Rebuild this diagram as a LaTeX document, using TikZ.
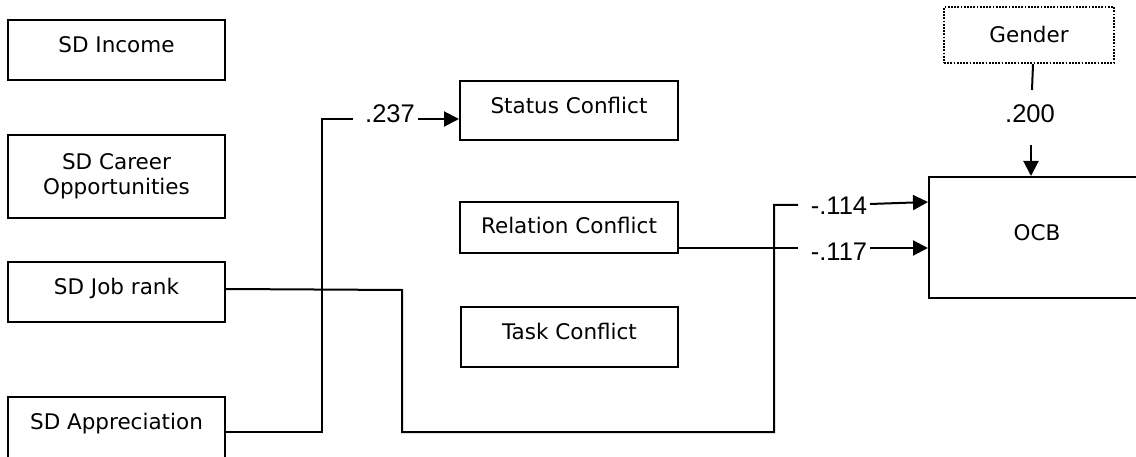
\documentclass[tikz,border=0pt]{standalone}
\usepackage{fontspec}
\setmainfont{DejaVu Sans}
\newfontfamily\numfont{Liberation Sans}
\usetikzlibrary{arrows.meta}
\begin{document}
\begin{tikzpicture}[x=1pt,y=-1pt,
  every node/.style={font=\fontsize{21.5}{25}\selectfont},
  box/.style={draw, line width=2pt, inner sep=0pt, text height=15.5pt, text depth=10pt, align=center},
  mbox/.style={draw, line width=2pt, inner sep=0pt, align=center},
  dotbox/.style={draw, line width=2.2pt, dash pattern=on 1.8pt off 1.4pt, inner sep=0pt, text height=15.5pt, text depth=0pt},
  num/.style={font=\numfont\fontsize{25.5}{28}\selectfont, inner sep=0pt, anchor=base},
  con/.style={line width=2pt},
  arr/.style={line width=2pt, -{Triangle[length=15pt,width=15pt]}}]
\useasboundingbox (0,0) rectangle (1136,457);
% boxes
\node[box, minimum width=217pt, minimum height=60pt] (inc) at (116.5,50) {SD Income};
\node[mbox, minimum width=217pt, minimum height=83pt] (car) at (116.5,176.5) {SD Career\\Opportunities};
\node[box, minimum width=217pt, minimum height=60pt] (rank) at (116.5,292) {SD Job rank};
\node[draw, line width=2pt, inner sep=0pt, minimum width=217pt, text height=32pt, text depth=38pt] (app) at (116.5,432) {SD Appreciation};
\node[box, minimum width=218pt, minimum height=59pt] (stat) at (569,110.5) {Status Conflict};
\node[draw, line width=2pt, inner sep=0pt, text height=15.5pt, text depth=3pt, minimum width=218pt, minimum height=51pt] (rel) at (569,227.5) {Relation Conflict};
\node[box, minimum width=217pt, minimum height=60pt] (task) at (569.5,337) {Task Conflict};
\node[dotbox, minimum width=170pt, minimum height=56pt] (gender) at (1029,35) {Gender};
\node[box, minimum width=216pt, minimum height=121pt] (ocb) at (1037,237.5) {OCB};
% labels
\node[num] (l237) at (390,123) {.237};
\node[num] (l114) at (839,215) {-.114};
\node[num] (l117) at (839,261) {-.117};
\node[num] (l200) at (1030,123) {.200};
% coordinates
\coordinate (p1) at (322,432);
\coordinate (p2) at (322,119);
\coordinate (p3) at (353,119);
\coordinate (p4) at (418,119);
\coordinate (j1) at (402,290);
\coordinate (j2) at (402,432);
\coordinate (j3) at (774,432);
\coordinate (j4) at (774,205);
\coordinate (j5) at (798,205);
\coordinate (a114) at (870,204);
\coordinate (c117) at (798,248);
\coordinate (a117) at (870,248);
\coordinate (g1) at (1032,90);
\coordinate (g2) at (1031,145);
% connectors
\draw[con] (app.east) -- (p1) -- (p2) -- (p3);
\draw[arr] (p4) -- (p4 -| stat.west);
\draw[con] ([yshift=3pt]rank.east) -- (j1) -- (j2) -- (j3) -- (j4) -- (j5);
\draw[arr] (a114) -- ([yshift=35.5pt]ocb.west);
\draw[con] (c117 -| rel.east) -- (c117);
\draw[arr] (a117) -- (a117 -| ocb.west);
\draw[con] ([xshift=4pt]gender.south) -- (g1);
\draw[arr] (g2) -- (g2 |- ocb.north);
\end{tikzpicture}
\end{document}
